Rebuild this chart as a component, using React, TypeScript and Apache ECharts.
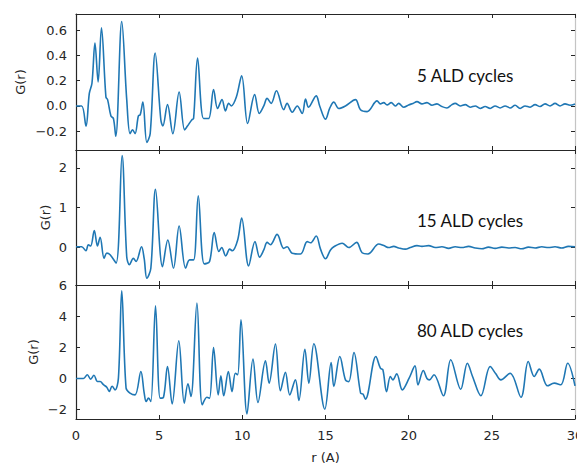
import React, { useEffect, useRef } from "react";
import * as echarts from "echarts";

// r (Å), G(r) pairs
const data5: [number, number][] = [
  [0, 0], [0.34, 0], [0.6, -0.16], [0.8, 0.1], [0.96, 0.18], [1.14, 0.5], [1.33, 0.19], [1.53, 0.62],
  [1.8, 0.07], [1.9, 0.05], [2.1, -0.08], [2.25, -0.1], [2.39, -0.24], [2.75, 0.67], [3.05, 0.05],
  [3.25, -0.22], [3.4, -0.19], [3.55, -0.22], [3.75, -0.08], [3.86, -0.07], [4.02, 0.03], [4.26, -0.29],
  [4.46, -0.22], [4.76, 0.42], [5.1, -0.11], [5.22, -0.16], [5.5, 0.01], [5.82, -0.22], [6.2, 0.11],
  [6.53, -0.19], [6.7, -0.16], [6.97, -0.11], [7.07, -0.1], [7.31, 0.38], [7.67, -0.1], [7.97, -0.1],
  [8.27, 0.13], [8.51, -0.02], [8.78, 0.05], [8.98, -0.04], [9.18, 0.02], [9.34, 0.0], [9.64, 0.07],
  [9.96, 0.24], [10.32, -0.14], [10.74, 0.09], [11.02, -0.06], [11.29, 0.0], [11.49, 0.06], [11.73, 0.02],
  [12.05, 0.12], [12.49, -0.03], [12.69, 0.02], [13.0, -0.05], [13.3, 0.0], [13.6, -0.06], [13.8, 0.055],
  [13.98, -0.01], [14.44, 0.08], [14.65, 0.0], [15.0, -0.105], [15.25, -0.02], [15.5, 0.03], [15.8, -0.02],
  [16.2, 0.0], [16.8, 0.05], [17.1, -0.03], [17.5, -0.045], [18.1, 0.04], [18.3, 0.016], [18.5, 0.026],
  [18.7, 0.008], [18.95, 0.026], [19.2, 0.0], [19.4, 0.02], [19.7, -0.01], [20.0, 0.008], [20.26, 0.02],
  [20.5, 0.034], [20.8, 0.016], [21.1, 0.026], [21.4, 0.005], [21.7, 0.016], [22.0, -0.005], [22.3, -0.016],
  [22.6, 0.01], [22.8, 0.02], [23.1, 0.0], [23.4, 0.01], [23.7, -0.01], [24.0, 0.0], [24.3, -0.02],
  [24.6, -0.005], [24.9, -0.02], [25.2, 0.0], [25.5, -0.016], [25.8, 0.0], [26.1, -0.016], [26.4, 0.005],
  [26.7, -0.02], [27.0, 0.0], [27.3, -0.01], [27.6, 0.01], [27.9, -0.005], [28.2, 0.016], [28.5, 0.0],
  [28.8, 0.02], [29.1, 0.0], [29.4, 0.016], [29.7, 0.005], [30.0, 0.016],
];

const data15: [number, number][] = [
  [0, 0.02], [0.34, 0.02], [0.6, -0.08], [0.74, 0.07], [0.88, 0.04], [1.1, 0.43], [1.29, 0.04], [1.45, 0.26],
  [1.69, -0.27], [1.85, -0.14], [2.05, -0.18], [2.41, -0.39], [2.77, 2.31], [3.05, -0.23], [3.21, -0.43],
  [3.45, -0.27], [3.61, -0.35], [3.94, 0.02], [4.1, -0.28], [4.26, -0.77], [4.5, -0.52], [4.78, 1.46],
  [5.2, -0.48], [5.52, 0.19], [5.86, -0.52], [6.2, 0.54], [6.59, -0.52], [6.83, -0.31], [7.07, -0.31],
  [7.35, 1.3], [7.71, -0.41], [8.03, -0.35], [8.31, 0.38], [8.59, -0.1], [8.76, 0.0], [9.0, -0.21],
  [9.24, -0.04], [9.4, -0.08], [9.72, 0.19], [9.96, 0.74], [10.38, -0.46], [10.76, 0.15], [11.04, -0.24],
  [11.29, -0.06], [11.49, 0.13], [11.69, 0.07], [12.09, 0.33], [12.49, -0.02], [12.69, 0.02], [12.99, -0.14],
  [13.5, -0.16], [13.9, 0.15], [14.1, 0.12], [14.44, 0.29], [14.7, -0.04], [15.0, -0.28], [15.3, -0.06],
  [15.5, 0.02], [16.0, 0.11], [16.4, 0.0], [16.87, 0.13], [17.2, -0.13], [17.55, -0.16], [18.2, 0.09],
  [18.5, 0.05], [18.8, 0.0], [19.1, 0.03], [19.4, -0.01], [19.8, -0.04], [20.1, 0.0], [20.5, 0.05],
  [20.8, 0.03], [21.2, 0.05], [21.6, 0.0], [22.0, 0.02], [22.4, -0.02], [22.8, 0.02], [23.2, 0.0],
  [23.6, 0.03], [24.0, -0.01], [24.4, -0.03], [24.8, 0.01], [25.2, -0.02], [25.6, 0.01], [26.0, -0.01],
  [26.4, 0.0], [26.8, -0.03], [27.2, 0.01], [27.6, -0.01], [28.0, 0.02], [28.4, 0.0], [28.8, 0.02],
  [29.2, -0.01], [29.6, 0.03], [30.0, 0.02],
];

const data80: [number, number][] = [
  [0, 0], [0.45, 0], [0.68, 0.24], [0.88, -0.04], [1.08, 0.21], [1.29, -0.19], [1.45, -0.19], [1.65, -0.4],
  [1.85, -0.56], [2.0, -0.83], [2.17, -0.5], [2.35, -0.73], [2.55, 0.02], [2.75, 5.63], [3.01, -0.62],
  [3.25, -0.94], [3.55, -1.05], [3.9, 0.45], [4.1, -0.94], [4.22, -1.48], [4.36, -1.26], [4.5, -1.48],
  [4.78, 4.67], [5.06, -1.26], [5.26, -1.2], [5.5, 0.77], [5.78, -1.63], [6.18, 2.42], [6.51, -1.58],
  [6.73, -0.34], [6.91, -1.16], [7.27, 4.84], [7.59, -1.69], [7.87, -1.2], [8.03, -1.26], [8.27, 1.99],
  [8.55, -1.05], [8.71, 0.17], [8.88, -1.11], [9.16, 0.45], [9.38, -0.84], [9.58, 0.34], [9.72, 0.24],
  [9.92, 3.77], [10.28, -2.27], [10.64, 1.24], [10.94, -1.54], [11.39, 1.13], [11.61, -0.3], [11.99, 2.21],
  [12.29, -0.79], [12.59, 0.39], [12.85, -1.05], [13.19, -0.09], [13.4, -1.41], [13.76, 1.88], [14.0, -0.3],
  [14.3, 2.23], [14.96, -1.97], [15.34, 1.03], [15.5, -0.51], [15.86, 1.41], [16.2, -0.09], [16.4, -0.2],
  [16.71, 1.67], [17.11, -0.94], [17.25, -1.0], [17.4, -1.33], [18.03, 1.41], [18.3, 0.66], [18.45, 0.56],
  [18.67, -0.84], [18.9, 0.13], [19.05, -0.09], [19.28, 0.3], [19.62, -0.73], [20.02, 0.0], [20.38, 0.81],
  [20.56, -0.41], [20.88, 0.51], [21.1, 0.0], [21.25, -0.09], [21.52, 0.24], [22.09, -1.11], [22.53, 1.2],
  [23.13, -0.69], [23.53, 0.98], [23.84, 0.13], [24.34, -1.11], [24.9, 0.77], [25.24, 0.3], [25.54, -0.09],
  [26.1, 0.34], [26.75, -1.2], [27.19, 1.09], [27.55, 0.13], [27.85, 0.6], [28.35, -0.47], [28.75, -0.3],
  [29.15, -0.4], [29.56, 0.98], [30.0, -0.47],
];

const xTicksInterval = 5;
const panelLabels = ["5 ALD cycles", "15 ALD cycles", "80 ALD cycles"];
const yTicks5 = [-0.2, 0, 0.2, 0.4, 0.6];
const yTicks15 = [0, 1, 2];
const yTicks80 = [-2, 0, 2, 4, 6];
const yRange5 = [-0.35, 0.73];
const yRange15 = [-0.94, 2.45];
const yRange80 = [-2.6, 6.0];

const FONT = "DejaVu Sans";
const TXT = "#262626";
const AX = "#262626";

export default function App() {
  const ref = useRef<HTMLDivElement>(null);
  useEffect(() => {
    if (!ref.current) return;
    const chart = echarts.init(ref.current, null, { renderer: "svg" });
    const grids = [
      { left: 76, right: 2, top: 14, height: 136, outerBoundsMode: "none" },
      { left: 76, right: 2, top: 150, height: 135, outerBoundsMode: "none" },
      { left: 76, right: 2, top: 285, height: 134, outerBoundsMode: "none" },
    ];
    const ranges = [yRange5, yRange15, yRange80];
    const ticks = [yTicks5, yTicks15, yTicks80];
    const datas = [data5, data15, data80];
    const nameGaps = [49, 24, 36];
    const fmt = (i: number) => (v: number) =>
      (i === 0 ? v.toFixed(1) : String(Math.round(v))).replace("-", "\u2212");

    const xAxis: any[] = [];
    const yAxis: any[] = [];
    const series: any[] = [];
    grids.forEach((_, i) => {
      const base = {
        type: "value",
        gridIndex: i,
        min: 0,
        max: 30,
        interval: xTicksInterval,
        splitLine: { show: false },
        axisLine: { show: true, onZero: false, lineStyle: { color: AX, width: 1.2 } },
        axisTick: { show: true, inside: true, length: 4, lineStyle: { color: AX, width: 1 } },
      };
      xAxis.push({
        ...base,
        position: "bottom",
        axisLabel: {
          show: i === 2,
          fontFamily: FONT,
          fontSize: 13,
          color: TXT,
          margin: 10,
          showMinLabel: true,
          showMaxLabel: true,
        },
        name: i === 2 ? "r (A)" : "",
        nameLocation: "middle",
        nameGap: 32,
        nameMoveOverlap: false,
        nameTextStyle: { fontFamily: FONT, fontSize: 13, color: TXT },
      });
      xAxis.push({ ...base, position: "top", axisLabel: { show: false } });
      const ybase = {
        type: "value",
        gridIndex: i,
        min: ranges[i][0],
        max: ranges[i][1],
        splitLine: { show: false },
      };
      yAxis.push({
        ...ybase,
        position: "left",
        axisLine: { show: true, onZero: false, lineStyle: { color: AX, width: 1.2 } },
        axisTick: {
          show: true,
          inside: true,
          length: 4,
          customValues: ticks[i],
          lineStyle: { color: AX, width: 1 },
        },
        axisLabel: {
          show: true,
          customValues: ticks[i],
          formatter: fmt(i),
          fontFamily: FONT,
          fontSize: 13,
          color: TXT,
          margin: 9,
        },
        name: "G(r)",
        nameLocation: "middle",
        nameRotate: 90,
        nameGap: nameGaps[i],
        nameMoveOverlap: false,
        nameTextStyle: { fontFamily: FONT, fontSize: 13, color: TXT },
      });
      yAxis.push({
        ...ybase,
        position: "right",
        axisLine: { show: true, onZero: false, lineStyle: { color: "#c4c4c4", width: 1.2 } },
        axisTick: {
          show: true,
          inside: true,
          length: 4,
          customValues: ticks[i],
          lineStyle: { color: AX, width: 1 },
        },
        axisLabel: { show: false },
      });
      series.push({
        type: "line",
        xAxisIndex: i * 2,
        yAxisIndex: i * 2,
        data: datas[i],
        showSymbol: false,
        smooth: 0.35,
        clip: true,
        lineStyle: { color: "#1f77b4", width: 1.6 },
      });
    });

    const labelPos = [75, 220, 330];
    chart.setOption({
      animation: false,
      backgroundColor: "#ffffff",
      grid: grids,
      xAxis,
      yAxis,
      series,
      graphic: panelLabels.map((t, i) => ({
        type: "text",
        x: 417,
        y: labelPos[i],
        style: {
          text: t,
          font: "17px Lato",
          fill: "#111111",
          verticalAlign: "middle",
          align: "left",
        },
      })),
    });
    return () => chart.dispose();
  }, []);
  return (
    <div
      ref={ref}
      style={{ position: "absolute", left: 0, top: 0, width: 577, height: 465, background: "#fff" }}
    />
  );
}
